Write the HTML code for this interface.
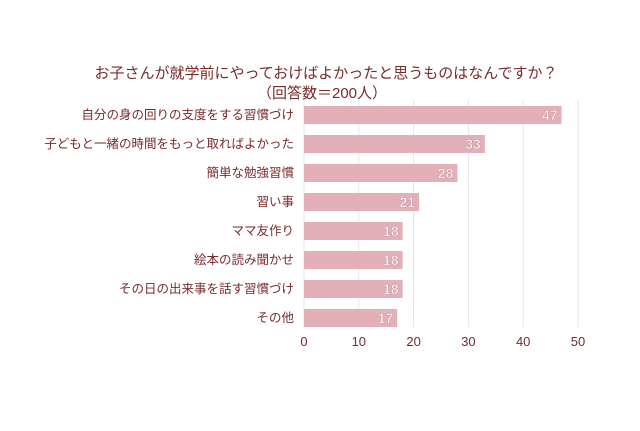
<!DOCTYPE html>
<html><head><meta charset="utf-8"><style>
body{margin:0;background:#fff;width:640px;height:426px;overflow:hidden}
svg{font-family:"Liberation Sans","Noto Sans CJK JP",sans-serif}
</style></head><body>
<svg id="c" width="640" height="426">
<text x="326" y="78" text-anchor="middle" font-size="15" fill="#7a2a2a">お子さんが就学前にやっておけばよかったと思うものはなんですか？</text>
<text x="322" y="98" text-anchor="middle" font-size="15" fill="#7a2a2a">（回答数＝200人）</text>
<g id="grid"></g><g id="bars"></g><g id="axis"></g>
</svg>
<script>
const categories=["自分の身の回りの支度をする習慣づけ","子どもと一緒の時間をもっと取ればよかった","簡単な勉強習慣","習い事","ママ友作り","絵本の読み聞かせ","その日の出来事を話す習慣づけ","その他"];
const values=[47,33,28,21,18,18,18,17];
const ticks=[0,10,20,30,40,50];
const NS="http://www.w3.org/2000/svg";
const x0=304,x1=578,max=50,top0=106,pitch=29,bh=18;
const xs=v=>x0+(x1-x0)*v/max;
const ys=i=>top0+i*pitch;
function mk(t,a,p,txt){const e=document.createElementNS(NS,t);for(const k in a)e.setAttribute(k,a[k]);if(txt!==undefined)e.textContent=txt;p.appendChild(e);return e;}
const g=document.getElementById('grid'),b=document.getElementById('bars'),ax=document.getElementById('axis');
ticks.forEach(t=>{
 const l=mk('line',{x1:xs(t),x2:xs(t),y1:100,y2:327,stroke:'#e6e6e6','stroke-width':1},g);
 
 
 const tx=mk('text',{x:xs(t),y:346,'text-anchor':'middle','font-size':13,fill:'#7a2a2a'},ax,t);
 
 
});
categories.forEach((c,i)=>{
 const r=mk('rect',{x:x0,y:ys(i),width:xs(values[i])-x0,height:bh,fill:'#e3b0b8'},b);
 
 
 const v=mk('text',{x:xs(values[i])-4,y:ys(i)+14,'text-anchor':'end','font-size':14,'font-weight':'bold',fill:'#fff',stroke:'#c99aa2','stroke-width':0.6},b,values[i]);
 
 
 const lb=mk('text',{x:294,y:ys(i)+13,'text-anchor':'end','font-size':12.5,fill:'#7a2a2a'},ax,c);
 
 
});
</script>
</body></html>
